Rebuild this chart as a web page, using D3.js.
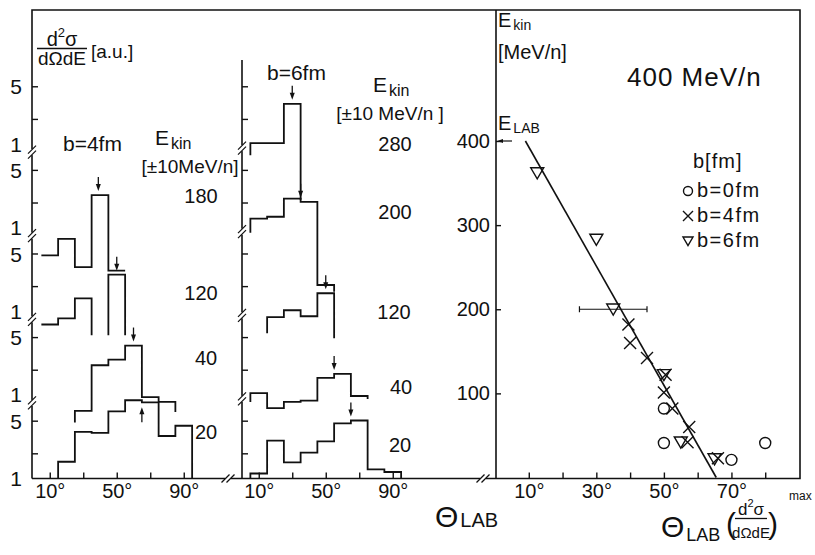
<!DOCTYPE html>
<html>
<head>
<meta charset="utf-8">
<script src="https://cdn.jsdelivr.net/npm/d3@7"></script>
<style>
  body { margin: 0; background: #fff; }
  svg text { font-family: "Liberation Sans", Arial, sans-serif; fill: #111; }
</style>
</head>
<body>
<div id="chart"></div>
<script>
// ---------- data ----------
const binWidth = 10; // degrees

// b = 4 fm histograms (left panel): E_kin, first bin edge (deg), bin values (a.u.)
const b4Ekin = [20, 40, 120, 180];
const b4Start = [15, 25, 5, 5];
const b4Vals = [
  [1.6, 3.7, 3.6, 6.6, 9.0, 8.5, 3.3, 4.4],
  [0.64, 2.3, 2.7, 4.0, 0.94, 0.82],
  [0.69, 0.82, 1.44, null, 2.8],
  [0.46, 0.73, 0.33, 2.5, 0.3]
];
const b4Low = [[1, 1], [0.46, 0.62], [0.69, 0.51], [0.46, 0.3]];   // stub ends
const b4Peak = [65, 60, 50, 39];
const b4PeakDir = ["up", "down", "down", "down"];

// b = 6 fm histograms (middle panel)
const b6Ekin = [20, 40, 120, 200, 280];
const b6Start = [5, 5, 15, 5, 5];
const b6Vals = [
  [1.15, 2.9, 1.57, 2.07, 2.83, 4.7, 5.1, 1.29, 1.2],
  [1.05, 0.69, 0.82, 0.85, 1.61, 1.8, 0.97],
  [0.85, 1.03, 0.87, 1.66],
  [1.29, 1.36, 2.26, 2.07, 0.2],
  [1.03, 1.03, 3.1]
];
const b6Low = [[1, 1], [0.82, 0.89], [0.54, 0.47], [0.87, 0.166], [0.73, 0.21]];
const b6Peak = [65, 55, 50, 35, 30];
const b6PeakDir = ["down", "down", "down", "down", "down"];

// right panel: E_kin vs theta of max
const fitLine = [[9, 400], [65.5, 0]];
const ptsB0 = [[50, 82], [50, 41], [70, 21], [80, 41]];
const ptsB4 = [[39.5, 182], [40, 160], [45, 142], [50.5, 122], [50, 101], [52.5, 82], [57.5, 60], [57, 42], [66, 23]];
const ptsB6 = [[12.5, 362], [30, 283], [35, 200], [50, 122], [55, 42], [65, 22]];
const errB6 = [[25, 45, 200]];

const histTicks = [10, 30, 50, 70, 90];
const histLabels = [10, 50, 90];
const rightXTicks = [10, 20, 30, 40, 50, 60, 70, 80];
const rightXLabels = [10, 30, 50, 70];
const rightYTicks = [100, 200, 300, 400];
const logTicks = [2, 5];
const logLabels = [1, 5];

// ---------- layout ----------
const W = 815, H = 555;
const svg = d3.select("#chart").append("svg")
  .attr("width", W).attr("height", H)
  .attr("viewBox", `0 0 ${W} ${H}`);

const topY = 10, bottomY = 478.5;
const leftX = 32, midX = 242, rightX = 496, endX = 800;
const stackStep = 83.6, decade = 82;

const xL = d3.scaleLinear().domain([0, 90]).range([33, 33 + 150.75]);
const xM = d3.scaleLinear().domain([0, 90]).range([242, 242 + 150.75]);
const xR = d3.scaleLinear().domain([0, 90]).range([495, 799]);
const yR = d3.scaleLinear().domain([0, 400]).range([477.5, 141]);

function stackScale(i) {
  const base = bottomY - i * stackStep;
  return d3.scaleLog().domain([1, 10]).range([base, base - decade]);
}

const ink = "#111";

// ---------- frame ----------
const frame = svg.append("g").attr("stroke", ink).attr("stroke-width", 1.6).attr("fill", "none");
frame.append("path").attr("d", `M${leftX},${bottomY}V${topY}H${endX}V${bottomY}H${leftX}`);
frame.append("line").attr("x1", midX).attr("x2", midX).attr("y1", 60).attr("y2", bottomY);
frame.append("line").attr("x1", rightX).attr("x2", rightX).attr("y1", topY).attr("y2", bottomY);

function breakV(x, y) {
  svg.append("rect").attr("x", x - 3).attr("y", y - 3).attr("width", 6).attr("height", 6).attr("fill", "#fff");
  [-2.5, 2.5].forEach(o => {
    svg.append("line").attr("x1", x - 4).attr("y1", y + o + 4).attr("x2", x + 4).attr("y2", y + o - 4)
      .attr("stroke", ink).attr("stroke-width", 1.2);
  });
}
function breakH(x, y) {
  svg.append("rect").attr("x", x - 3).attr("y", y - 3).attr("width", 6).attr("height", 6).attr("fill", "#fff");
  [-2.5, 2.5].forEach(o => {
    svg.append("line").attr("x1", x + o - 4).attr("y1", y + 4).attr("x2", x + o + 4).attr("y2", y - 4)
      .attr("stroke", ink).attr("stroke-width", 1.2);
  });
}

// ---------- stacked log axes ----------
for (let i = 0; i < 5; i++) {
  const y = stackScale(i);
  [leftX, midX].forEach((ax, k) => {
    const g = svg.append("g").attr("transform", `translate(${ax},0)`);
    logTicks.forEach(t => {
      g.append("line").attr("x1", 0).attr("x2", 6).attr("y1", y(t)).attr("y2", y(t))
        .attr("stroke", ink).attr("stroke-width", 1.4);
    });
    if (k === 0) {
      logLabels.forEach(t => {
        g.append("text").attr("x", -10).attr("y", y(t)).attr("dy", "0.36em")
          .attr("text-anchor", "end").attr("font-size", 21).text(t);
      });
    }
  });
  if (i > 0) {
    breakV(leftX, y(1) + 8);
    breakV(midX, y(1) + 4);
  }
}
breakH(228, bottomY);
breakH(483, bottomY);

// ---------- x axes ----------
function styleAxis(g) {
  g.select(".domain").remove();
  g.selectAll("line").attr("stroke", ink).attr("stroke-width", 1.4);
  g.selectAll("text").attr("font-size", 20).attr("font-family", null);
}
function histAxis(x) {
  const ax = d3.axisBottom(x).tickValues(histTicks).tickSizeInner(-6).tickSizeOuter(0).tickPadding(5)
    .tickFormat(d => histLabels.includes(d) ? d + "°" : "");
  svg.append("g").attr("transform", `translate(0,${bottomY})`).call(ax).call(styleAxis);
}
histAxis(xL);
histAxis(xM);

const axR = d3.axisBottom(xR).tickValues(rightXTicks).tickSizeInner(-6).tickSizeOuter(0).tickPadding(5)
  .tickFormat(d => rightXLabels.includes(d) ? d + "°" : "");
svg.append("g").attr("transform", `translate(0,${bottomY})`).call(axR).call(styleAxis);

const ayR = d3.axisLeft(yR).tickValues(rightYTicks).tickSizeInner(-5).tickSizeOuter(0).tickPadding(6);
svg.append("g").attr("transform", `translate(${rightX},0)`).call(ayR).call(styleAxis);

// ---------- histograms ----------
function histPath(x, y, start, vals, lo) {
  let e = start, pen = true;
  let d = `M${x(e)},${y(lo[0])}`;
  vals.forEach(v => {
    if (v == null) {
      d += `V${y(lo[1])}`;
      pen = false;
    } else {
      if (!pen) { d += `M${x(e)},${y(lo[1])}`; pen = true; }
      d += `V${y(v)}H${x(e + binWidth)}`;
    }
    e += binWidth;
  });
  return d + `V${y(lo[1])}`;
}

function peakArrow(x, y, start, vals, angle, dir) {
  const k = Math.min(vals.length - 1, Math.floor((angle - start) / binWidth));
  const yv = y(vals[k]);
  const px = x(angle);
  const tip = dir === "down" ? yv - 4 : yv + 5;
  const tail = dir === "down" ? tip - 14 : tip + 15;
  const s = dir === "down" ? -1 : 1;
  svg.append("line").attr("x1", px).attr("x2", px).attr("y1", tail).attr("y2", tip + s * 4)
    .attr("stroke", ink).attr("stroke-width", 1.3);
  svg.append("path").attr("d", `M${px},${tip}L${px - 2.5},${tip + s * 7}L${px + 2.5},${tip + s * 7}Z`)
    .attr("fill", ink);
}

function drawHists(x, starts, vals, lows, peaks, dirs) {
  vals.forEach((v, i) => {
    const y = stackScale(i);
    svg.append("path").attr("d", histPath(x, y, starts[i], v, lows[i]))
      .attr("fill", "none").attr("stroke", ink).attr("stroke-width", 1.8);
    peakArrow(x, y, starts[i], v, peaks[i], dirs[i]);
  });
}
drawHists(xL, b4Start, b4Vals, b4Low, b4Peak, b4PeakDir);
drawHists(xM, b6Start, b6Vals, b6Low, b6Peak, b6PeakDir);

// ---------- right panel marks ----------
svg.append("path").attr("d", d3.line().x(d => xR(d[0])).y(d => yR(d[1]))(fitLine))
  .attr("stroke", ink).attr("stroke-width", 1.6).attr("fill", "none");

errB6.forEach(([a, b, e]) => {
  const g = svg.append("g").attr("stroke", ink).attr("stroke-width", 1.2);
  g.append("line").attr("x1", xR(a)).attr("x2", xR(b)).attr("y1", yR(e)).attr("y2", yR(e));
  [a, b].forEach(t => g.append("line").attr("x1", xR(t)).attr("x2", xR(t)).attr("y1", yR(e) - 3).attr("y2", yR(e) + 3));
});

function circleSym(g, cx, cy, r) {
  g.append("circle").attr("cx", cx).attr("cy", cy).attr("r", r)
    .attr("fill", "none").attr("stroke", ink).attr("stroke-width", 1.4);
}
function crossSym(g, cx, cy, r) {
  g.append("path").attr("d", `M${cx - r},${cy - r}L${cx + r},${cy + r}M${cx - r},${cy + r}L${cx + r},${cy - r}`)
    .attr("stroke", ink).attr("stroke-width", 1.4);
}
function triSym(g, cx, cy, r) {
  g.append("path").attr("d", `M${cx - r},${cy - r * 0.8}L${cx + r},${cy - r * 0.8}L${cx},${cy + r * 0.9}Z`)
    .attr("fill", "none").attr("stroke", ink).attr("stroke-width", 1.4);
}
const marks = svg.append("g");
ptsB0.forEach(d => circleSym(marks, xR(d[0]), yR(d[1]), 5.5));
ptsB4.forEach(d => crossSym(marks, xR(d[0]), yR(d[1]), 6));
ptsB6.forEach(d => triSym(marks, xR(d[0]), yR(d[1]), 6.5));

// E_LAB arrow
svg.append("line").attr("x1", 512).attr("x2", 502).attr("y1", yR(400)).attr("y2", yR(400))
  .attr("stroke", ink).attr("stroke-width", 1.2);
svg.append("path").attr("d", `M497,${yR(400)}L503,${yR(400) - 2}L503,${yR(400) + 2}Z`).attr("fill", ink);

// ---------- legend ----------
const leg = svg.append("g");
leg.append("text").attr("x", 693).attr("y", 168).attr("font-size", 20).attr("letter-spacing", 1).text("b[fm]");
const legItems = [["b=0fm", circleSym, 4.5], ["b=4fm", crossSym, 5], ["b=6fm", triSym, 5]];
legItems.forEach(([t, fn, r], i) => {
  const yy = 197 + i * 25;
  fn(leg, 688, yy - 6, r);
  leg.append("text").attr("x", 697).attr("y", yy).attr("font-size", 20).attr("letter-spacing", 1.5).text(t);
});

// ---------- texts ----------
function txt(x, y, s, size, anchor) {
  return svg.append("text").attr("x", x).attr("y", y).attr("font-size", size)
    .attr("text-anchor", anchor || "start").text(s);
}
function withSub(x, y, main, sub, size, subSize, dy) {
  const t = svg.append("text").attr("x", x).attr("y", y).attr("font-size", size);
  t.append("tspan").text(main);
  t.append("tspan").attr("font-size", subSize).attr("dy", dy).attr("dx", 2).text(sub);
  return t;
}
function d2sigma(x, y, size) {
  const t = svg.append("text").attr("x", x).attr("y", y).attr("font-size", size).attr("text-anchor", "middle");
  t.append("tspan").text("d");
  t.append("tspan").attr("font-size", size * 0.65).attr("dy", -size * 0.45).text("2");
  t.append("tspan").attr("dy", size * 0.45).text("σ");
}

// top-left y label
d2sigma(62, 46, 20);
svg.append("line").attr("x1", 37).attr("x2", 87).attr("y1", 48.5).attr("y2", 48.5).attr("stroke", ink).attr("stroke-width", 1.4);
txt(62, 65, "dΩdE", 19, "middle");
txt(91, 58, "[a.u.]", 19);

// left panel labels
txt(63, 151, "b=4fm", 21);
withSub(155, 145, "E", "kin", 21, 16, 4);
txt(190, 173, "[±10MeV/n]", 19, "middle");
txt(201, 203, "180", 20, "middle");
txt(201, 300, "120", 20, "middle");
txt(206, 365, "40", 20, "middle");
txt(206, 439, "20", 20, "middle");

// middle panel labels
txt(267, 80, "b=6fm", 21);
withSub(373, 92, "E", "kin", 21, 16, 4);
txt(390, 120, "[±10 MeV/n ]", 19, "middle");
txt(395, 151, "280", 20, "middle");
txt(395, 219, "200", 20, "middle");
txt(394, 319, "120", 20, "middle");
txt(401, 394, "40", 20, "middle");
txt(400, 452, "20", 20, "middle");

// middle x title
withSub(435, 527, "Θ", "LAB", 30, 20, 0);

// right panel labels
withSub(498, 27, "E", "kin", 20, 14, 3);
txt(498, 59, "[MeV/n]", 20);
txt(627, 86, "400 MeV/n", 26).attr("letter-spacing", 1);
withSub(498, 130, "E", "LAB", 20, 14, 3);

// right x title
withSub(661, 537, "Θ", "LAB", 30, 18, 4);
txt(726, 534, "(", 30);
d2sigma(751, 515, 17);
svg.append("line").attr("x1", 735).attr("x2", 767).attr("y1", 518.5).attr("y2", 518.5).attr("stroke", ink).attr("stroke-width", 1.3);
txt(751, 538, "dΩdE", 15, "middle");
txt(768, 534, ")", 30);
txt(789, 500, "max", 12);
</script>
</body>
</html>
